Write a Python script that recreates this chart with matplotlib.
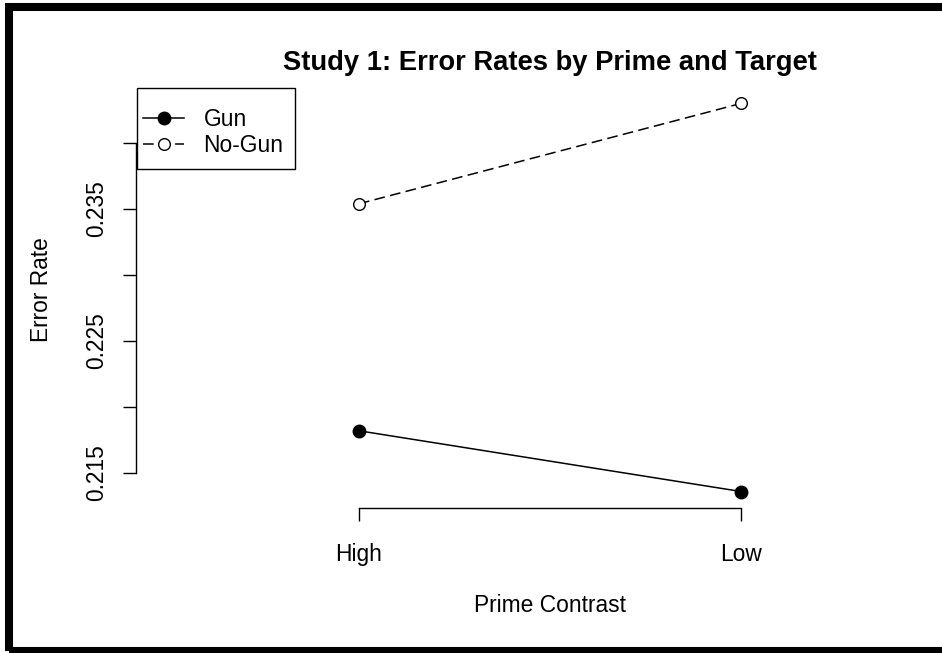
import matplotlib
matplotlib.use('Agg')
import matplotlib.pyplot as plt
from matplotlib.patches import Rectangle

plt.rcParams['font.family'] = ['Liberation Sans', 'DejaVu Sans']

# data
prime_levels = ['High', 'Low']
gun_rate = [0.2182, 0.2136]
nogun_rate = [0.2354, 0.2430]
series_names = ['Gun', 'No-Gun']
y_ticks = [0.215, 0.220, 0.225, 0.230, 0.235, 0.240]
y_tick_labels = ['0.215', '', '0.225', '', '0.235', '']

W, H = 942, 653
fs = 16.4

fig = plt.figure(figsize=(W / 100, H / 100), dpi=100)
# plot region in pixels (original R device was wider, right side cropped)
left, right, top, bottom = 136, 964, 88, 508
pw, ph = right - left, bottom - top
ax = fig.add_axes([left / W, (H - bottom) / H, pw / W, ph / H])
ax.patch.set_alpha(0)

x = [1, 2]
l1, = ax.plot(x, gun_rate, '-o', color='black', lw=1.1, ms=9.0,
              mfc='black', mec='black', clip_on=False)
l2, = ax.plot(x, nogun_rate, '--o', color='black', lw=1.1, ms=8.4,
              mfc='white', mec='black', mew=1.0, dashes=(7, 3.5), clip_on=False)

ax.set_xlim(0.4162, 2.5838)
ax.set_ylim(0.21235, 0.24417)

for s in ['top', 'right']:
    ax.spines[s].set_visible(False)
ax.spines['left'].set_bounds(0.215, 0.240)
ax.spines['bottom'].set_bounds(1, 2)
for s in ['left', 'bottom']:
    ax.spines[s].set_linewidth(1.0)
    ax.spines[s].set_color('black')

ax.set_yticks(y_ticks)
ax.set_yticklabels(y_tick_labels, rotation=90, va='center')
ax.set_xticks(x)
ax.set_xticklabels(prime_levels)
ax.tick_params(axis='y', length=9.4, width=1.0, pad=11, labelsize=fs)
ax.tick_params(axis='x', length=9.4, width=1.0, pad=15.5, labelsize=fs)

ax.set_xlabel('Prime Contrast', fontsize=fs)
ax.xaxis.set_label_coords(0.5, (bottom - 606) / ph)
ax.xaxis.label.set_va('center')
ax.set_ylabel('Error Rate', fontsize=fs)
ax.yaxis.set_label_coords((42 - left) / pw, (bottom - 290) / ph)
ax.yaxis.label.set_va('center')

fig.text(550 / W, 1 - 63 / H, 'Study 1: Error Rates by Prime and Target',
         ha='center', va='center', fontsize=fs * 1.2, fontweight='bold')

# legend entries without frame, box drawn separately (R legend box)
leg = ax.legend([l1, l2], series_names, loc='upper left',
                bbox_to_anchor=(-3 / pw, 1 - 10 / ph),
                borderaxespad=0, fontsize=fs, frameon=False,
                borderpad=0.45, handlelength=1.8, handletextpad=0.85,
                labelspacing=0.1, numpoints=1)
ax.add_patch(Rectangle((1 / pw, 1 - 81 / ph), 158 / pw, 81 / ph,
                       transform=ax.transAxes, fill=True, facecolor='white',
                       edgecolor='black', lw=1.0, clip_on=False, zorder=4))
leg.set_zorder(5)

# thick frame around the device (right edge cropped away)
fig.patches.append(Rectangle((9 / W, 1 - 651 / H), 960 / W, (651 - 7) / H,
                             transform=fig.transFigure, fill=False,
                             edgecolor='black', lw=5.8, clip_on=False))

fig.savefig('out.png', dpi=100)
